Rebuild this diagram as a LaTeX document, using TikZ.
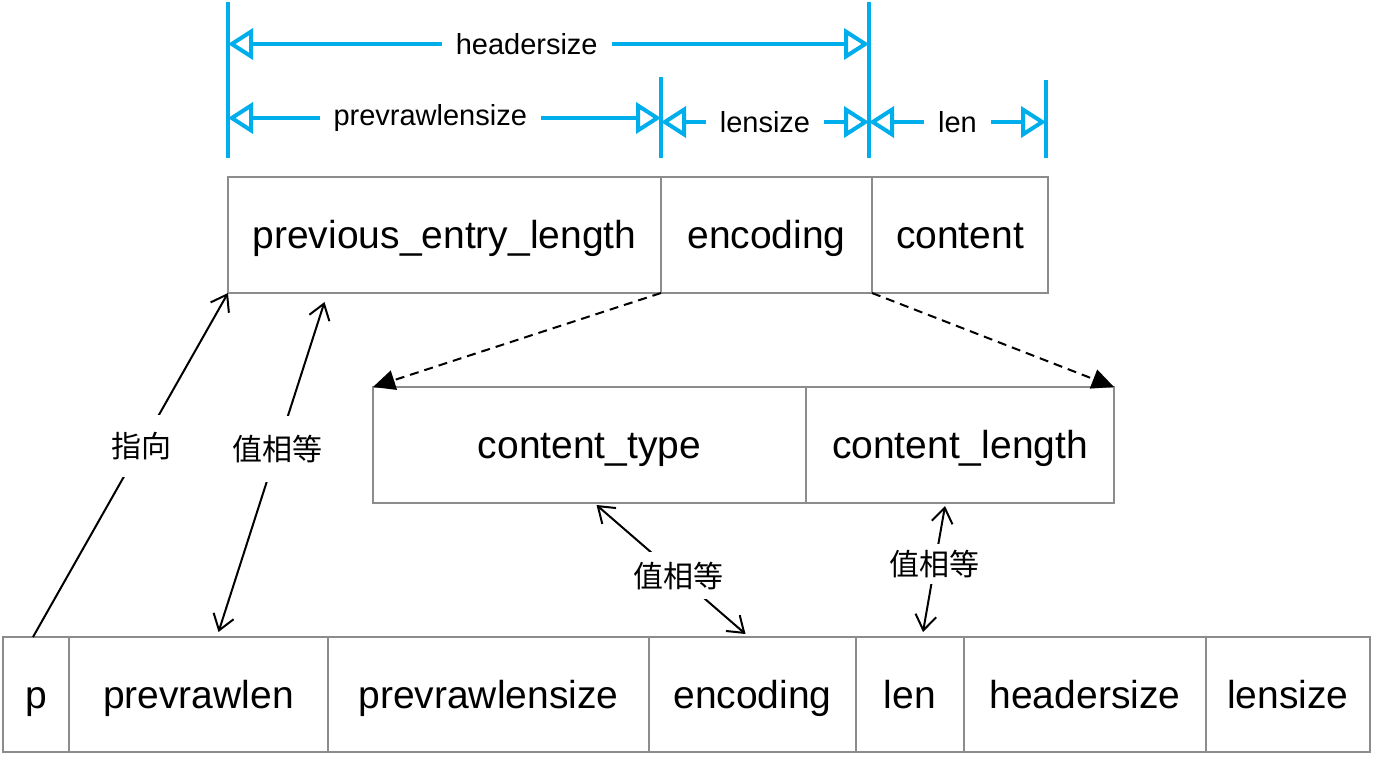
\documentclass[tikz,border=0pt]{standalone}
\usepackage{fontspec}
\setmainfont{Liberation Sans}
\newfontfamily\cjk{Noto Sans CJK SC}
\usetikzlibrary{positioning,arrows.meta}
\definecolor{dimblue}{RGB}{0,174,236}
\definecolor{boxgray}{RGB}{140,140,140}

\begin{document}
\begin{tikzpicture}[x=1pt,y=-1pt,
  cell/.style={draw=boxgray, line width=1.6pt, minimum height=116pt, inner sep=0pt, outer sep=0pt,
    text height=32pt, text depth=5pt, font=\fontsize{39}{44}\selectfont},
  dim/.style={draw=dimblue, line width=4pt},
  dimarrow/.style={dim, {Triangle[open,length=25pt,width=31pt,fill=white]}-{Triangle[open,length=25pt,width=31pt,fill=white]}},
  dimlabel/.style={fill=white, inner xsep=14pt, font=\fontsize{29}{32}\selectfont, text=black},
  link/.style={line width=2pt, >={Straight Barb[length=15pt,width=21pt]}},
  linklabel/.style={fill=white, inner xsep=4pt, font=\cjk\fontsize{30}{34}\selectfont},
  spread/.style={line width=2pt, dash pattern=on 9pt off 6pt, -{Triangle[length=22pt,width=20pt]}}]
  \useasboundingbox (0,0) rectangle (1376,756);

  % entry
  \node[cell, minimum width=433pt, anchor=north west] (prev) at (228,177) {previous\_entry\_length};
  \node[cell, minimum width=211pt, right=0pt of prev] (enc) {encoding};
  \node[cell, minimum width=176pt, right=0pt of enc] (cont) {content};

  % encoding split
  \node[cell, minimum width=433pt, anchor=north west] (ctype) at (373,387) {content\_type};
  \node[cell, minimum width=308pt, right=0pt of ctype] (clen) {content\_length};

  % zlentry
  \node[cell, minimum width=66pt, minimum height=115pt, anchor=north west] (p) at (3,637) {p};
  \node[cell, minimum width=259pt, minimum height=115pt, right=0pt of p] (rawlen) {prevrawlen};
  \node[cell, minimum width=321pt, minimum height=115pt, right=0pt of rawlen] (rawsize) {prevrawlensize};
  \node[cell, minimum width=207pt, minimum height=115pt, right=0pt of rawsize] (encb) {encoding};
  \node[cell, minimum width=108pt, minimum height=115pt, right=0pt of encb] (lenb) {len};
  \node[cell, minimum width=242pt, minimum height=115pt, right=0pt of lenb] (hsize) {headersize};
  \node[cell, minimum width=164pt, minimum height=115pt, right=0pt of hsize] (lsize) {lensize};

  % sizes
  \draw[dim] (228,2) -- (228,158);
  \draw[dim] (661,77) -- (661,158);
  \draw[dim] (869,2) -- (869,158);
  \draw[dim] (1046,80) -- (1046,158);
  \draw[dimarrow] (228,44) -- node[dimlabel, pos=0.466] {headersize} (869,44);
  \draw[dimarrow] (228,118) -- node[dimlabel, pos=0.467] {prevrawlensize} (661,118);
  \draw[dimarrow] (661,122) -- node[dimlabel] {lensize} (869,122);
  \draw[dimarrow] (869,122) -- node[dimlabel] {len} (1046,122);

  % links
  \draw[link,->] ([xshift=-3pt]p.north) -- node[linklabel, pos=0.555, inner ysep=17pt] {指向} (prev.south west);
  \draw[link,<->] ([xshift=20pt,yshift=5pt]rawlen.north) -- node[linklabel, pos=0.555, inner ysep=19pt] {值相等} ([xshift=-120pt,yshift=-9pt]prev.south);
  \draw[link,<->] ([xshift=7pt,yshift=-2pt]ctype.south) -- node[linklabel, pos=0.547, inner ysep=10pt] {值相等} ([xshift=-7pt,yshift=3pt]encb.north);
  \draw[link,<->] ([xshift=-15pt,yshift=-3pt]clen.south) -- node[linklabel, pos=0.46, inner ysep=6pt] {值相等} ([xshift=13pt,yshift=5pt]lenb.north);
  \draw[spread] (enc.south west) -- (ctype.north west);
  \draw[spread] (cont.south west) -- (clen.north east);
\end{tikzpicture}
\end{document}
